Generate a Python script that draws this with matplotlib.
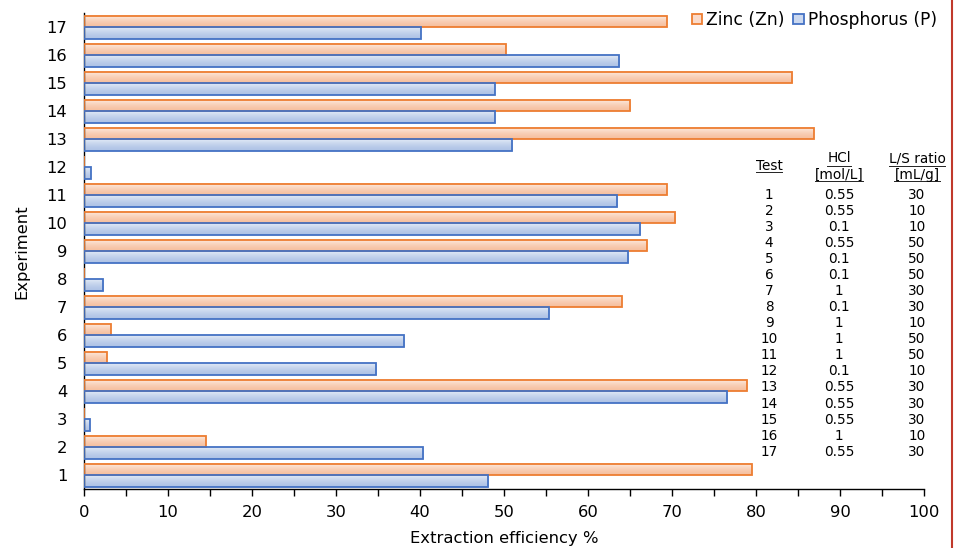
import numpy as np
import matplotlib
matplotlib.use('Agg')
import matplotlib.pyplot as plt
from matplotlib.patches import Patch
from matplotlib.lines import Line2D

# Dane
experiments = list(range(1, 18))
zinc = [79.5, 14.5, 0, 78.9, 2.7, 3.2, 64.0, 0, 67.0, 70.4, 69.4, 0, 86.9, 65.0, 84.3, 50.2, 69.4]
phos = [48.1, 40.4, 0.7, 76.6, 34.8, 38.1, 55.3, 2.3, 64.8, 66.2, 63.5, 0.8, 51.0, 48.9, 48.9, 63.7, 40.1]

# Tabela warunków
test_no = [str(i) for i in experiments]
hcl = ['0.55', '0.55', '0.1', '0.55', '0.1', '0.1', '1', '0.1', '1', '1', '1', '0.1',
       '0.55', '0.55', '0.55', '1', '0.55']
ls_ratio = ['30', '10', '10', '50', '50', '50', '30', '30', '10', '50', '50', '10',
            '30', '30', '30', '10', '30']

plt.rcParams['font.family'] = ['DejaVu Sans']

W, H = 955, 548
fig = plt.figure(figsize=(W / 100, H / 100), dpi=100)
ax = fig.add_axes([84 / W, 1 - 489.3 / H, (924 - 84) / W, (489.3 - 13.3) / H])

bh = 0.415
y = np.array(experiments, dtype=float)

zn_edge, zn_top, zn_bot = '#ED7D31', '#FDEDE3', '#F6C0A0'
p_edge, p_top, p_bot = '#4472C4', '#E2EAF6', '#AFC3E6'


def gradient(c_top, c_bot, n=32):
    a = np.array(matplotlib.colors.to_rgb(c_top))
    b = np.array(matplotlib.colors.to_rgb(c_bot))
    t = np.linspace(0, 1, n)[:, None]
    mid = 1 - (1 - t) ** 1.5
    return (a + (b - a) * mid)[:, None, :]


g_zn = gradient(zn_top, zn_bot)
g_p = gradient(p_top, p_bot)

# Słupki z gradientem
for yi, v in zip(y, zinc):
    if v > 0:
        ax.imshow(g_zn, extent=[0, v, yi, yi + bh], aspect='auto', zorder=2, interpolation='bilinear')
for yi, v in zip(y, phos):
    if v > 0:
        ax.imshow(g_p, extent=[0, v, yi - bh, yi], aspect='auto', zorder=2, interpolation='bilinear')

ax.barh(y + bh / 2, zinc, height=bh, facecolor='none', edgecolor=zn_edge, linewidth=1.3, zorder=3)
ax.barh(y - bh / 2, phos, height=bh, facecolor='none', edgecolor=p_edge, linewidth=1.3, zorder=3)

ax.set_xlim(0, 100)
ax.set_ylim(0.5, 17.5)
ax.set_yticks(experiments)
ax.set_xticks(np.arange(0, 101, 10))
ax.set_xticks(np.arange(5, 100, 10), minor=True)

for s in ['top', 'right']:
    ax.spines[s].set_visible(False)
ax.spines['left'].set_linewidth(1.0)
ax.spines['bottom'].set_linewidth(1.0)

ax.tick_params(axis='y', length=0, pad=12, labelsize=11.8)
ax.tick_params(axis='x', which='both', length=5, width=1, direction='out', pad=6, labelsize=11.8)

ax.set_xlabel('Extraction efficiency %', fontsize=11.8, labelpad=8)
ax.set_ylabel('Experiment', fontsize=11.8, labelpad=12)

# Legenda
handles = [Patch(facecolor='#FADACA', edgecolor=zn_edge, linewidth=1.3, label='Zinc (Zn)'),
           Patch(facecolor='#CBD8EF', edgecolor=p_edge, linewidth=1.3, label='Phosphorus (P)')]
fig.legend(handles=handles, loc='upper right', bbox_to_anchor=(937 / W, 1 - 11 / H), ncol=2,
           frameon=False, fontsize=12.3, handlelength=0.6, handleheight=0.6,
           handletextpad=0.25, columnspacing=0.5, borderpad=0, borderaxespad=0)

# Tabela z warunkami
fs = 9.8
cols_x = [769 / W, 839 / W, 917 / W]
headers = ['Test', 'HCl\n[mol/L]', 'L/S ratio\n[mL/g]']
head_y = [1 - 166 / H, 1 - 166.5 / H, 1 - 166.5 / H]
head_txt = []
for cx, hy, h in zip(cols_x, head_y, headers):
    t = fig.text(cx, hy, h, ha='center', va='center', fontsize=fs, linespacing=1.2)
    head_txt.append(t)

for i in range(len(experiments)):
    yy = 1 - (195 + i * 16.04) / H
    for cx, val in zip(cols_x, [test_no[i], hcl[i], ls_ratio[i]]):
        fig.text(cx, yy, val, ha='center', va='center', fontsize=fs)

# Podkreślenia nagłówków
fig.canvas.draw()
renderer = fig.canvas.get_renderer()
inv = fig.transFigure.inverted()
for t in head_txt:
    lines = t.get_text().split('\n')
    bb = t.get_window_extent(renderer)
    n = len(lines)
    line_h = bb.height / n
    for k, ln in enumerate(lines):
        tmp = fig.text(0, 0, ln, fontsize=fs)
        wb = tmp.get_window_extent(renderer)
        tmp.remove()
        cx = (bb.x0 + bb.x1) / 2
        ybase = bb.y1 - (k + 1) * line_h + 1.0
        p0 = inv.transform((cx - wb.width / 2, ybase))
        p1 = inv.transform((cx + wb.width / 2, ybase))
        fig.add_artist(Line2D([p0[0], p1[0]], [p0[1], p1[1]], color='#222222', linewidth=0.7))

# Czerwona linia z prawej
fig.add_artist(Line2D([952 / W, 952 / W], [0, 1], color='#C0392B', linewidth=1.5))

fig.savefig('out.png', dpi=100)
plt.close()
